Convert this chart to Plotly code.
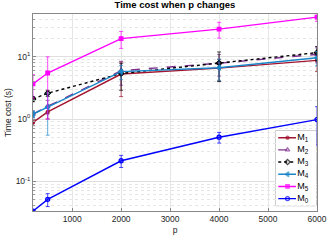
import plotly.graph_objects as go

p = [200, 500, 2000, 4000, 6000]

m1 = [0.88, 1.3, 5.3, 6.6, 8.8]
m1_err = [0.1, 0.3, 3.0, 2.5, 3.0]
m2 = [1.2, 1.6, 6.0, 7.9, 11.0]
m2_err = [0.15, 0.4, 2.5, 3.0, 3.0]
m3 = [2.1, 2.6, 5.4, 8.0, 11.7]
m3_err = [0.2, 0.3, 2.5, 4.0, 3.0]
m4 = [1.2, 1.55, 5.8, 6.7, 9.7]
m4_err = [0.15, 1.0, 1.5, 2.5, 2.5]
m5 = [3.67, 5.5, 19.7, 28.0, 43.7]
m5_err = [1.5, 4.5, 6.0, 8.0, 6.5]
m0 = [0.033, 0.051, 0.213, 0.51, 0.98]
m0_err = [0.002, 0.012, 0.047, 0.1, 0.6]

labels = ["M<sub>1</sub>", "M<sub>2</sub>", "M<sub>3</sub>", "M<sub>4</sub>", "M<sub>5</sub>", "M<sub>0</sub>"]

series = [
    (labels[0], m1, m1_err, "#A2142F", "solid", "circle", 3),
    (labels[1], m2, m2_err, "#7E2F8E", "dash", "triangle-up-open", 4),
    (labels[2], m3, m3_err, "#000000", "dot", "diamond-open", 4),
    (labels[3], m4, m4_err, "#1A86C8", "solid", "triangle-left", 4.5),
    (labels[4], m5, m5_err, "#FF00FF", "solid", "square", 3.5),
    (labels[5], m0, m0_err, "#0000FF", "solid", "circle-open", 4),
]

fig = go.Figure()
for name, y, e, c, dash, sym, ms in series:
    fig.add_trace(go.Scatter(
        x=p, y=y, name=name, mode="lines+markers", showlegend=False,
        line=dict(color=c, width=1.4, dash=dash),
        marker=dict(color=c, symbol=sym, size=ms, line=dict(color=c, width=1.3)),
        error_y=dict(type="data", array=e, visible=True, color=c, thickness=0.7, width=2),
    ))

# Compact legend drawn on an inset axis
n = len(series)
for i, (name, y, e, c, dash, sym, ms) in enumerate(series):
    row = n - i
    fig.add_trace(go.Scatter(
        x=[0.06, 0.29, 0.5], y=[row, row, row], xaxis="x2", yaxis="y2",
        mode="lines+markers", showlegend=False, hoverinfo="skip",
        line=dict(color=c, width=1.4, dash=dash),
        marker=dict(color=c, symbol=sym, size=[0, ms, 0], line=dict(color=c, width=1.3)),
    ))
    fig.add_trace(go.Scatter(
        x=[0.53], y=[row], xaxis="x2", yaxis="y2", mode="text",
        text=[name], textposition="middle right", showlegend=False, hoverinfo="skip",
        textfont=dict(size=9, color="#000", family="Liberation Sans, Arial"),
    ))

fig.add_shape(type="rect", xref="x2 domain", yref="y2 domain", x0=0, x1=1, y0=0, y1=1,
              fillcolor="white", line=dict(color="#8c8c8c", width=0.8), layer="below")

fig.update_layout(
    width=330, height=248,
    margin=dict(l=33, r=13, t=14, b=37, autoexpand=False),
    paper_bgcolor="white", plot_bgcolor="white",
    font=dict(family="Liberation Sans, Arial", size=9, color="#262626"),
    title=dict(text="<b>Time cost when p changes</b>", x=0.53, xanchor="center",
               y=0.995, yanchor="top", font=dict(size=9.5, color="#000")),
    showlegend=False,
    xaxis=dict(
        range=[200, 6000], tickvals=[1000, 2000, 3000, 4000, 5000, 6000],
        showgrid=True, gridcolor="#e6e6e6", gridwidth=0.8,
        showline=True, linecolor="#888", mirror=True, linewidth=0.8,
        ticks="inside", ticklen=3, tickcolor="#888", zeroline=False,
        title=dict(text="p", font=dict(size=8.5), standoff=3),
        tickfont=dict(size=8.5), automargin=False,
    ),
    yaxis=dict(
        type="log", range=[-1.48, 1.69],
        tickvals=[0.1, 1, 10], ticktext=["10<sup>-1</sup>", "10<sup>0</sup>", "10<sup>1</sup>"],
        showgrid=True, gridcolor="#e0e0e0", gridwidth=0.8,
        minor=dict(dtick="D1", showgrid=True, gridcolor="#e6e6e6", griddash="dot",
                   ticks="inside", ticklen=2, tickcolor="#999"),
        showline=True, linecolor="#888", mirror=True, linewidth=0.8,
        ticks="inside", ticklen=3, tickcolor="#888", zeroline=False,
        title=dict(text="Time cost (s)", font=dict(size=8.5), standoff=2),
        tickfont=dict(size=8.5), automargin=False,
    ),
    xaxis2=dict(domain=[0.855, 0.997], range=[0, 1], visible=False, fixedrange=True, anchor="y2"),
    yaxis2=dict(domain=[0.027, 0.408], range=[0.42, 6.58], visible=False, fixedrange=True, anchor="x2"),
)

fig.write_html("out.html", config={"displayModeBar": False},
               post_script="document.body.style.margin='0';")
